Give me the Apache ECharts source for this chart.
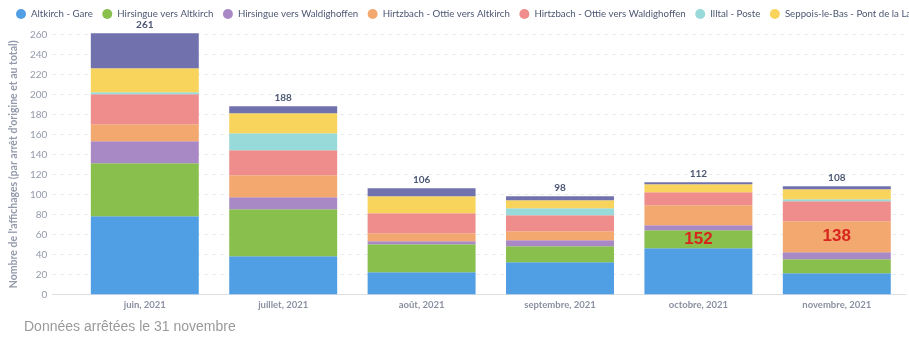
<!DOCTYPE html>
<html>
<head>
<meta charset="utf-8">
<script src="https://cdn.jsdelivr.net/npm/echarts@6/dist/echarts.min.js"></script>
<style>
  html, body { margin: 0; padding: 0; background: #ffffff; }
  #chart { width: 909px; height: 342px; }
</style>
</head>
<body>
<div id="chart"></div>
<script>
// Monthly categories (x axis tick labels)
const months = ['juin, 2021', 'juillet, 2021', 'août, 2021', 'septembre, 2021', 'octobre, 2021', 'novembre, 2021'];

// Stop names, in stacking order (bottom to top)
const stopNames = [
  'Altkirch - Gare',
  'Hirsingue vers Altkirch',
  'Hirsingue vers Waldighoffen',
  'Hirtzbach - Ottie vers Altkirch',
  'Hirtzbach - Ottie vers Waldighoffen',
  'Illtal - Poste',
  'Seppois-le-Bas - Pont de la Largue',
  'Seppois-le-Bas - Mairie'
];

// Displays per stop and month
const altkirchGare          = [78, 38, 22, 32, 46, 21];
const hirsingueAltkirch     = [53, 47, 28, 16, 18, 14];
const hirsingueWaldighoffen = [22, 12,  3,  6,  5,  7];
const hirtzbachAltkirch     = [17, 22,  8,  9, 20, 31];
const hirtzbachWaldighoffen = [30, 25, 20, 16, 13, 20];
const illtalPoste           = [ 2, 17,  0,  7,  0,  2];
const seppoisPont           = [24, 20, 17,  8,  8, 10];
const seppoisMairie         = [35,  7,  8,  4,  2,  3];

// Y axis ticks
const yTickMax = 260;
const yTickStep = 20;

// Highlighted figures written over a segment
const noteMonths = ['octobre, 2021', 'novembre, 2021'];
const noteStops  = [1, 3];
const noteValues = [152, 138];

const stopValues = [altkirchGare, hirsingueAltkirch, hirsingueWaldighoffen, hirtzbachAltkirch,
  hirtzbachWaldighoffen, illtalPoste, seppoisPont, seppoisMairie];
const colors = ['#509ee3', '#88bf4d', '#a989c5', '#f2a86f', '#ef8c8c', '#98d9d9', '#f9d45c', '#7172ad'];

const totals = months.map((m, i) => stopValues.reduce((s, arr) => s + arr[i], 0));

// middle of a segment in data units, used to anchor the highlighted figures
function segmentMiddle(stopIdx, monthIdx) {
  let base = 0;
  for (let k = 0; k < stopIdx; k++) base += stopValues[k][monthIdx];
  return base + stopValues[stopIdx][monthIdx] / 2;
}

const FONT = 'Lato, "Noto Sans", sans-serif';
const gridTop = 34.3, gridBottom = 47.7;

const series = stopNames.map((name, si) => {
  const s = {
    name: name,
    type: 'bar',
    stack: 'total',
    xAxisIndex: 1,
    yAxisIndex: 1,
    barWidth: '78%',
    clip: false,
    itemStyle: { color: colors[si] },
    emphasis: { disabled: true },
    data: stopValues[si]
  };
  if (si === stopNames.length - 1) {
    s.label = {
      show: true,
      position: 'top',
      distance: 4,
      fontFamily: FONT,
      fontWeight: 'bold',
      fontSize: 10,
      color: '#4c5773',
      formatter: p => String(totals[p.dataIndex])
    };
  }
  const notes = [];
  noteStops.forEach((st, ni) => {
    if (st === si) {
      const mi = months.indexOf(noteMonths[ni]);
      notes.push({ coord: [noteMonths[ni], segmentMiddle(si, mi)], value: noteValues[ni] });
    }
  });
  if (notes.length) {
    s.markPoint = {
      symbol: 'circle',
      symbolSize: 0,
      silent: true,
      label: {
        show: true,
        position: 'inside',
        fontFamily: '"Liberation Sans", Arial, sans-serif',
        fontWeight: 'bold',
        fontSize: 17,
        color: '#d7261e',
        formatter: p => String(p.value)
      },
      data: notes
    };
  }
  return s;
});

const chart = echarts.init(document.getElementById('chart'), null, { renderer: 'canvas' });
chart.setOption({
  animation: false,
  backgroundColor: '#ffffff',
  color: colors,
  legend: {
    left: 11,
    top: 4,
    width: 1600,
    icon: 'circle',
    itemWidth: 10,
    itemHeight: 10,
    itemGap: 9.5,
    selectedMode: false,
    textStyle: { fontFamily: FONT, fontSize: 9.7, color: '#4c5773' },
    data: stopNames
  },
  grid: [
    { left: 40, right: 3, top: gridTop, bottom: gridBottom },
    { left: 75.6, right: 3, top: gridTop, bottom: gridBottom }
  ],
  xAxis: [
    {
      type: 'value', gridIndex: 0, min: 0, max: 1, interval: 1,
      axisLine: { show: true, lineStyle: { color: '#dcdfe4' } },
      axisTick: { show: false },
      axisLabel: { show: false },
      splitLine: { show: false }
    },
    {
      type: 'category', gridIndex: 1, data: months,
      axisLine: { show: false },
      axisTick: { show: false },
      axisLabel: { margin: 6, fontFamily: FONT, fontWeight: 'bold', fontSize: 9.5, color: '#8a90a2' }
    }
  ],
  yAxis: [
    {
      type: 'value', gridIndex: 0, min: 0, max: yTickMax, interval: yTickStep,
      name: "Nombre de l'affichages (par arrêt d'origine et au total)",
      nameLocation: 'middle',
      nameGap: 31,
      nameTextStyle: { fontFamily: FONT, fontWeight: 'bold', fontSize: 10.5, color: '#949aab' },
      axisLine: { show: false },
      axisTick: { show: false },
      axisLabel: { margin: 5, fontFamily: FONT, fontSize: 10, color: '#949aab' },
      splitLine: { show: true, lineStyle: { color: '#e8eaee', type: [4, 4] } }
    },
    {
      type: 'value', gridIndex: 1, min: 0, max: yTickMax, interval: yTickStep,
      axisLine: { show: false }, axisTick: { show: false },
      axisLabel: { show: false }, splitLine: { show: false }
    }
  ],
  graphic: [{
    type: 'text',
    left: 24,
    top: 320,
    style: {
      text: 'Données arrêtées le 31 novembre',
      font: '14px "Liberation Sans", Arial, sans-serif',
      fill: '#9a9a9a'
    }
  }],
  series: series
});
</script>
</body>
</html>
